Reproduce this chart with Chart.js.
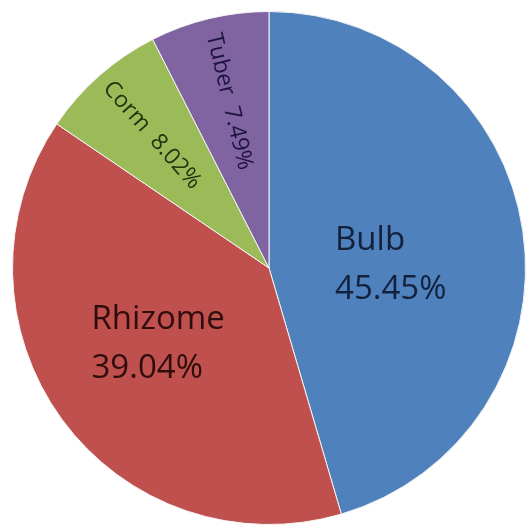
<!DOCTYPE html>
<html lang="en">
<head>
    <meta charset="UTF-8">
    <title>Plant storage organs</title>
    <style>
        html, body {
            margin: 0;
            padding: 0;
            background: #ffffff;
        }
        #wrap {
            width: 527px;
            height: 526px;
        }
    </style>
</head>
<body>
    <div id="wrap">
        <canvas id="pieChart" width="527" height="526"></canvas>
    </div>
    <script src="https://cdn.jsdelivr.net/npm/chart.js"></script>
    <script>
        // data
        const categories = ['Bulb', 'Rhizome', 'Corm', 'Tuber'];
        const shares = [45.45, 39.04, 8.02, 7.49];
        const valueLabels = ['45.45%', '39.04%', '8.02%', '7.49%'];

        const sliceColors = ['#4f81bd', '#c0504d', '#9bbb59', '#8064a2'];
        const textColors = ['#13213c', '#2e0d0d', '#1d3410', '#1f1440'];

        // label placement: radius fraction, angle tweak (deg), rotated or not
        const labelStyle = [
            { rf: 0.475, da: 5.9, rotate: false },
            { rf: 0.52, da: 2.3, rotate: false },
            { rf: 0.69, da: 0, rotate: true },
            { rf: 0.667, da: 0, rotate: true }
        ];

        const sliceLabels = {
            id: 'sliceLabels',
            afterDatasetsDraw(chart) {
                const ctx = chart.ctx;
                const arcs = chart.getDatasetMeta(0).data;
                arcs.forEach((arc, i) => {
                    const st = labelStyle[i];
                    const mid = (arc.startAngle + arc.endAngle) / 2 + st.da * Math.PI / 180;
                    const r = arc.outerRadius * st.rf;
                    const cx = arc.x + Math.cos(mid) * r;
                    const cy = arc.y + Math.sin(mid) * r;
                    ctx.save();
                    ctx.fillStyle = textColors[i];
                    if (st.rotate) {
                        ctx.translate(cx, cy);
                        ctx.rotate(mid + Math.PI);
                        ctx.font = '23px "Open Sans"';
                        ctx.textAlign = 'center';
                        ctx.textBaseline = 'middle';
                        ctx.fillText(categories[i] + '  ' + valueLabels[i], 0, 0);
                    } else {
                        ctx.font = '33px "Open Sans"';
                        ctx.textAlign = 'left';
                        ctx.textBaseline = 'alphabetic';
                        const w = Math.max(ctx.measureText(categories[i]).width,
                                           ctx.measureText(valueLabels[i]).width);
                        const x0 = cx - w / 2;
                        const lineGap = 49;
                        const capH = 23.5;
                        const base1 = cy - (capH + lineGap) / 2 + capH;
                        ctx.fillText(categories[i], x0, base1);
                        ctx.fillText(valueLabels[i], x0, base1 + lineGap);
                    }
                    ctx.restore();
                });
            }
        };

        new Chart(document.getElementById('pieChart').getContext('2d'), {
            type: 'pie',
            data: {
                labels: categories,
                datasets: [{
                    data: shares,
                    backgroundColor: sliceColors,
                    borderColor: '#f4f4f4',
                    borderWidth: 1,
                    hoverOffset: 0
                }]
            },
            options: {
                responsive: false,
                animation: false,
                layout: {
                    padding: { left: 12, top: 11, right: 1, bottom: 1 }
                },
                plugins: {
                    legend: { display: false },
                    tooltip: { enabled: false }
                }
            },
            plugins: [sliceLabels]
        });
    </script>
</body>
</html>
